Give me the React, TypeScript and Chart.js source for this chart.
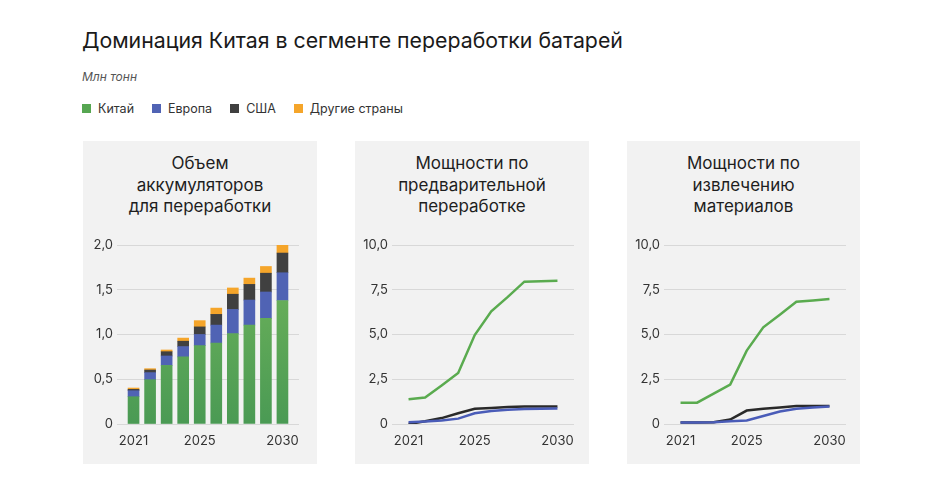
import React, { useEffect, useRef } from 'react';
import { Chart, registerables } from 'chart.js';

Chart.register(...registerables);
Chart.defaults.font.family = 'Inter, "Noto Sans", sans-serif';
Chart.defaults.color = '#333333';

// ---- data ----
const years = [2021, 2022, 2023, 2024, 2025, 2026, 2027, 2028, 2029, 2030];
const xTickValues = [2021, 2025, 2030];

// Panel 1: volume of batteries for recycling (stacked bars)
const volChina = [0.305, 0.495, 0.655, 0.75, 0.875, 0.905, 1.01, 1.105, 1.18, 1.38];
const volEurope = [0.067, 0.079, 0.105, 0.115, 0.125, 0.2, 0.27, 0.28, 0.295, 0.31];
const volUSA = [0.015, 0.029, 0.048, 0.06, 0.085, 0.12, 0.17, 0.175, 0.21, 0.22];
const volOther = [0.015, 0.015, 0.019, 0.035, 0.07, 0.07, 0.07, 0.07, 0.075, 0.09];
const volYTicks = [0, 0.5, 1, 1.5, 2];

// Panel 2: pre-treatment capacity (lines)
const preChina = [1.38, 1.48, 2.15, 2.85, 4.97, 6.3, 7.1, 7.95, 7.97, 8.0];
const preUSA = [0.0, 0.15, 0.33, 0.6, 0.85, 0.9, 0.95, 0.98, 0.98, 0.98];
const preEurope = [0.1, 0.14, 0.2, 0.3, 0.6, 0.72, 0.8, 0.84, 0.85, 0.87];

// Panel 3: material recovery capacity (lines)
const recChina = [1.19, 1.19, 1.7, 2.2, 4.1, 5.4, 6.1, 6.83, 6.9, 6.98];
const recUSA = [0.08, 0.08, 0.1, 0.25, 0.75, 0.85, 0.92, 1.0, 1.0, 1.0];
const recEurope = [0.08, 0.08, 0.1, 0.15, 0.2, 0.45, 0.7, 0.85, 0.92, 0.98];
const lineYTicks = [0, 2.5, 5, 7.5, 10];

const legendLabels = ['Китай', 'Европа', 'США', 'Другие страны'];
const COLORS = {
  china: '#56a651',
  europe: '#5063b4',
  usa: '#404040',
  other: '#f5a52a',
};

const fmtY = (v: number) => (v === 0 ? '0' : v.toFixed(1).replace('.', ','));

const toPoints = (arr: number[]) => years.map((x, i) => ({ x, y: arr[i] }));

function baseScales(yMax: number, yTicks: number[], yWidth: number) {
  return {
    x: {
      type: 'linear' as const,
      min: 2020,
      max: 2031,
      offset: false,
      grid: { display: false, drawTicks: false, offset: false },
      border: { display: false },
      ticks: {
        padding: 9,
        font: { size: 13 },
        color: '#333333',
        callback: (v: any) => String(v),
        maxRotation: 0,
      },
      afterBuildTicks: (s: any) => {
        s.ticks = xTickValues.map((value) => ({ value }));
      },
      afterFit: (s: any) => {
        s.height = 40;
      },
    },
    y: {
      min: 0,
      max: yMax,
      grid: { color: '#d8d8d8', lineWidth: 1, drawTicks: false },
      border: { display: false },
      ticks: {
        padding: 4,
        font: { size: 13 },
        color: '#333333',
        callback: (v: any) => fmtY(Number(v)),
      },
      afterBuildTicks: (s: any) => {
        s.ticks = yTicks.map((value) => ({ value }));
      },
      afterFit: (s: any) => {
        s.width = yWidth;
      },
    },
  };
}

function barConfig(yWidth: number, rightPad: number): any {
  const greenGrad = (ctx: any) => {
    const chart = ctx.chart;
    const area = chart.chartArea;
    if (!area) return COLORS.china;
    const g = chart.ctx.createLinearGradient(0, area.bottom, 0, area.top);
    g.addColorStop(0, '#4a9a54');
    g.addColorStop(0.7, '#66ad59');
    g.addColorStop(1, '#6cb25c');
    return g;
  };
  const scales: any = baseScales(2, volYTicks, yWidth);
  scales.y.stacked = true;
  return {
    type: 'bar',
    data: {
      datasets: [
        { label: legendLabels[0], data: toPoints(volChina), backgroundColor: greenGrad },
        { label: legendLabels[1], data: toPoints(volEurope), backgroundColor: COLORS.europe },
        { label: legendLabels[2], data: toPoints(volUSA), backgroundColor: COLORS.usa },
        { label: legendLabels[3], data: toPoints(volOther), backgroundColor: COLORS.other },
      ].map((d) => ({ ...d, stack: 'all', barThickness: 11, borderWidth: 0 })),
    },
    options: {
      animation: false,
      responsive: false,
      layout: { padding: { top: 14, right: rightPad, left: 0, bottom: 0 } },
      plugins: { legend: { display: false }, tooltip: { enabled: false }, title: { display: false } },
      scales,
    },
  };
}

function lineConfig(china: number[], usa: number[], europe: number[], yWidth: number, rightPad: number): any {
  const ds = (label: string, arr: number[], color: string) => ({
    label,
    data: toPoints(arr),
    borderColor: color,
    backgroundColor: color,
    borderWidth: 2.5,
    pointRadius: 0,
    tension: 0,
    fill: false,
  });
  return {
    type: 'line',
    data: {
      datasets: [
        ds(legendLabels[0], china, '#5aab4f'),
        ds(legendLabels[1], europe, '#4a5cb8'),
        ds(legendLabels[2], usa, '#2a2a2a'),
      ],
    },
    options: {
      animation: false,
      responsive: false,
      layout: { padding: { top: 14, right: rightPad, left: 0, bottom: 0 } },
      plugins: { legend: { display: false }, tooltip: { enabled: false }, title: { display: false } },
      scales: baseScales(10, lineYTicks, yWidth),
    },
  };
}

function Panel(props: { left: number; width: number; title: string[]; makeConfig: () => any }) {
  const ref = useRef<HTMLCanvasElement>(null);
  useEffect(() => {
    if (!ref.current) return;
    const chart = new Chart(ref.current, props.makeConfig());
    return () => chart.destroy();
  }, []);
  return (
    <div
      style={{
        position: 'absolute',
        left: props.left,
        top: 141,
        width: props.width,
        height: 323,
        background: '#f2f2f2',
      }}
    >
      <div
        style={{
          position: 'absolute',
          left: 0,
          top: 12,
          width: props.width,
          textAlign: 'center',
          fontFamily: 'Inter, "Noto Sans", sans-serif',
          fontSize: 17,
          lineHeight: '21.5px',
          color: '#1e1e1e',
        }}
      >
        {props.title.map((t, i) => (
          <div key={i}>{t}</div>
        ))}
      </div>
      <canvas
        ref={ref}
        width={props.width}
        height={233}
        style={{ position: 'absolute', left: 0, top: 90, width: props.width, height: 233 }}
      />
    </div>
  );
}

export default function App() {
  const legendColors = [COLORS.china, COLORS.europe, COLORS.usa, COLORS.other];
  return (
    <div
      style={{
        position: 'fixed',
        left: 0,
        top: 0,
        width: 949,
        height: 501,
        background: '#ffffff',
        fontFamily: 'Inter, "Noto Sans", sans-serif',
        overflow: 'hidden',
      }}
    >
      <div
        style={{
          position: 'absolute',
          left: 82,
          top: 27,
          fontSize: 21.3,
          lineHeight: '26px',
          color: '#1a1a1a',
          whiteSpace: 'nowrap',
        }}
      >
        Доминация Китая в сегменте переработки батарей
      </div>
      <div
        style={{
          position: 'absolute',
          left: 82,
          top: 70,
          fontSize: 12,
          lineHeight: '14px',
          fontStyle: 'italic',
          color: '#555555',
        }}
      >
        Млн тонн
      </div>
      <div
        style={{
          position: 'absolute',
          left: 82,
          top: 100,
          height: 17,
          display: 'flex',
          alignItems: 'center',
          gap: 18,
          fontSize: 12.5,
          color: '#333333',
          whiteSpace: 'nowrap',
        }}
      >
        {legendLabels.map((l, i) => (
          <div key={l} style={{ display: 'flex', alignItems: 'center' }}>
            <span style={{ display: 'inline-block', width: 9, height: 9, background: legendColors[i], marginRight: 7 }} />
            <span>{l}</span>
          </div>
        ))}
      </div>
      <Panel left={83} width={234} title={['Объем', 'аккумуляторов', 'для переработки']} makeConfig={() => barConfig(34, 18)} />
      <Panel
        left={355}
        width={234}
        title={['Мощности по', 'предварительной', 'переработке']}
        makeConfig={() => lineConfig(preChina, preUSA, preEurope, 37, 15)}
      />
      <Panel
        left={627}
        width={233}
        title={['Мощности по', 'извлечению', 'материалов']}
        makeConfig={() => lineConfig(recChina, recUSA, recEurope, 37, 14)}
      />
    </div>
  );
}
